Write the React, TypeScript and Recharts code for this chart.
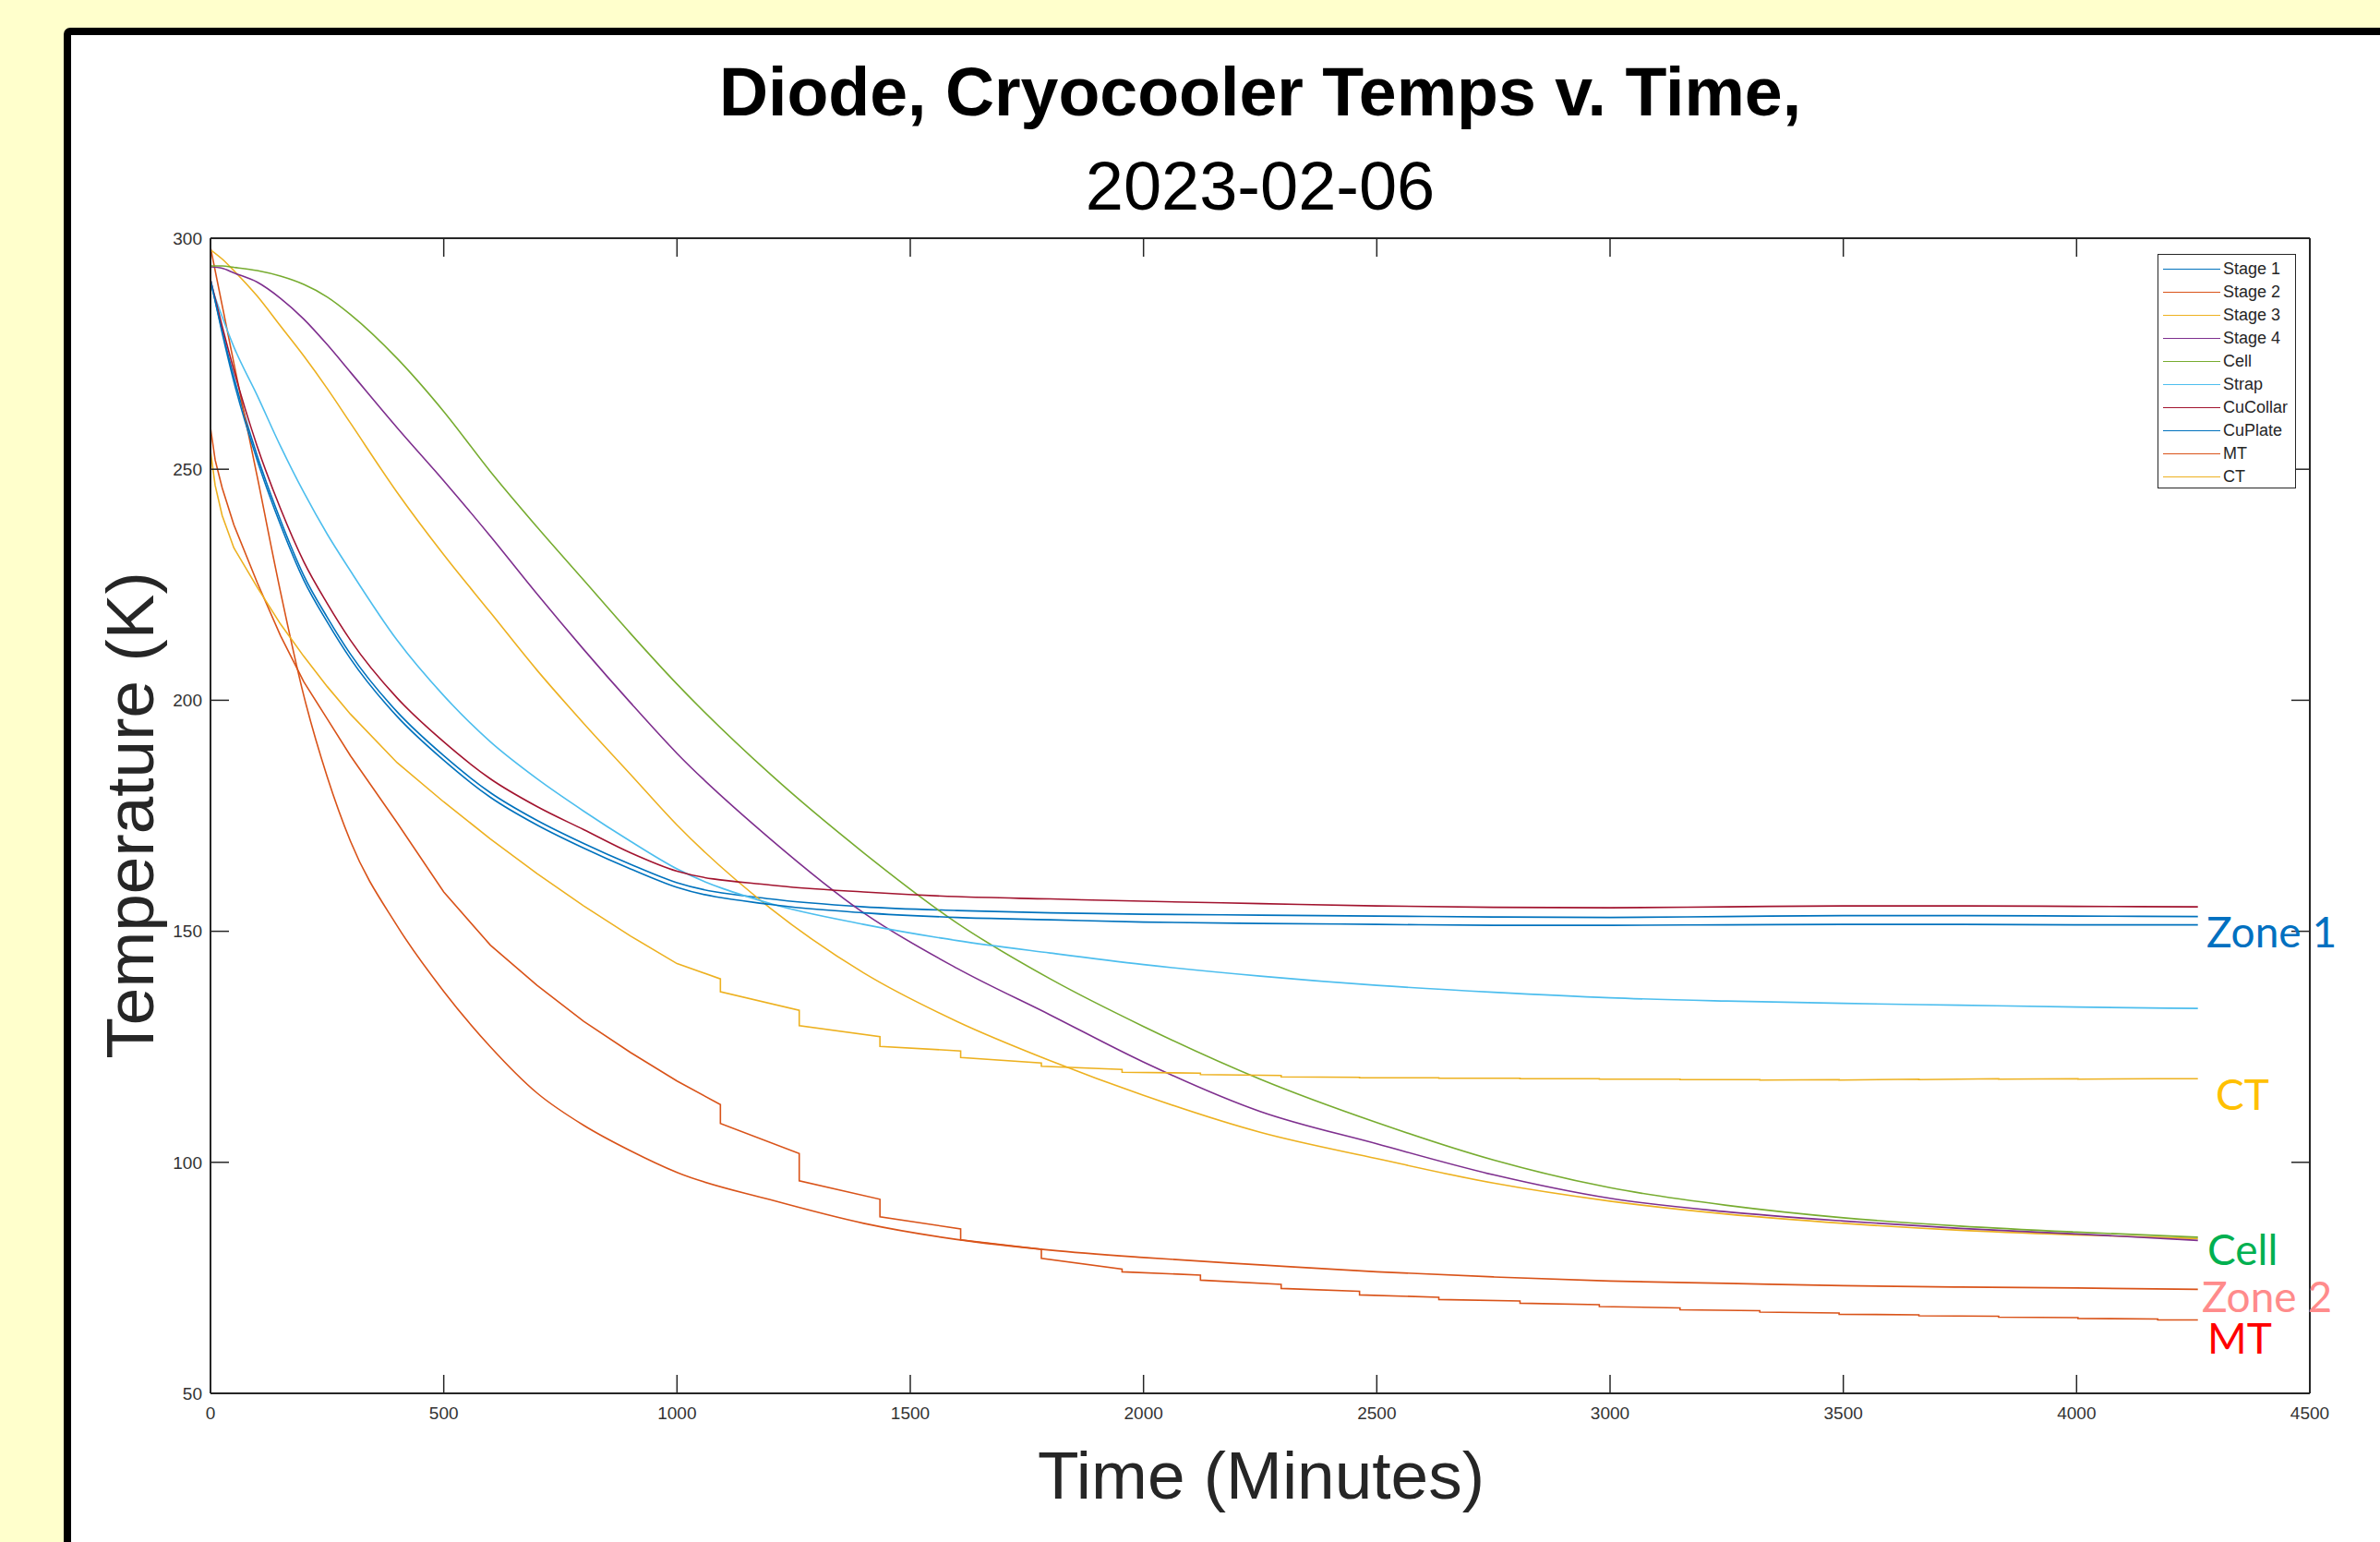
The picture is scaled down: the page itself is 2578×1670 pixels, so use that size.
import { LineChart, Line, XAxis, YAxis, Legend } from "recharts";

// shared time grid (minutes) for the smooth channels
const TIME = [0, 25, 50, 100, 150, 200, 250, 300, 400, 500, 600, 700, 800, 900, 1000, 1200, 1400, 1600, 1800, 2000, 2250, 2500, 2750, 3000, 3250, 3500, 3750, 4000, 4260];

const STAGE1 = [291, 280, 270, 253, 239, 227, 218, 210, 197.5, 188, 180, 174, 169, 164.5, 160.5, 157, 155.3, 154.5, 154, 153.7, 153.5, 153.3, 153.1, 153.0, 153.2, 153.4, 153.4, 153.3, 153.2];
const STAGE2 = [298, 285.5, 273, 248.5, 223.5, 201, 183.5, 169.5, 151.2, 137, 125, 115, 108, 102.5, 97.8, 91.9, 86.8, 83.3, 81, 79.4, 77.8, 76.3, 75.2, 74.3, 73.8, 73.3, 73.0, 72.8, 72.5];
const STAGE3 = [297.5, 295.5, 293, 287.5, 281, 274.5, 267.5, 260, 245, 231.5, 219, 206.5, 195, 184, 173, 155, 141, 130.5, 122, 114.5, 106.5, 100.8, 95.5, 91.6, 88.8, 86.8, 85.3, 84.3, 83.5];
const STAGE4 = [293.8, 293.5, 292.5, 290.5, 287, 282.5, 277, 271, 259, 247.5, 235.5, 223, 211, 199.5, 188.5, 170, 154, 142, 131.9, 121.7, 111, 104, 97.3, 92.2, 89.3, 87.3, 85.7, 84.5, 83.1];
const CELL = [294, 294, 293.7, 293, 291.8, 290, 287.3, 283.5, 274, 262.5, 249.5, 237.5, 226, 214.5, 203.5, 184, 167, 151.8, 139.7, 129.4, 118, 108.6, 100.5, 94.5, 90.7, 88, 86.2, 84.9, 83.8];
const STRAP = [290, 283, 276.5, 266, 255, 245, 236, 228, 213, 201, 191, 183, 176, 169.5, 163.5, 156, 151.5, 148, 145.3, 142.8, 140.3, 138.3, 136.8, 135.6, 134.9, 134.4, 134, 133.6, 133.3];
const CUCOLLAR = [291, 281, 271.5, 255, 241.5, 230, 221, 213, 200.5, 191, 183, 177, 172, 167, 163, 160, 158.5, 157.5, 157, 156.5, 156, 155.5, 155.2, 155.1, 155.3, 155.5, 155.5, 155.4, 155.3];
const CUPLATE = [291, 279.5, 269, 252, 238, 226, 217, 209, 196.5, 187, 179, 173, 168, 163.5, 159.5, 155.8, 154, 153, 152.5, 152, 151.7, 151.5, 151.3, 151.3, 151.4, 151.5, 151.5, 151.4, 151.4];

// MT and CT are logged with discrete steps, so they get their own time base
const STEP_TIME = [0, 10, 25, 50, 100, 150, 200, 250, 300, 400, 500, 600, 700, 800, 900, 1000,
  1093, 1093, 1262, 1262, 1435, 1435, 1608, 1608, 1781, 1781, 1954, 1954, 2122, 2122, 2295, 2295,
  2463, 2463, 2633, 2633, 2807, 2807, 2977, 2977, 3150, 3150, 3321, 3321, 3491, 3491, 3662, 3662,
  3833, 3833, 4003, 4003, 4174, 4174, 4260];
const MT = [259, 252, 246, 238, 225.5, 214, 204, 196, 188, 173.5, 158.5, 147, 138.3, 130.5, 123.8, 117.6,
  112.5, 108.4, 101.9, 96.0, 92.0, 88.2, 85.6, 83.2, 81.2, 79.2, 76.9, 76.3, 75.6, 74.5, 73.6, 72.7,
  72.1, 71.3, 70.8, 70.3, 70.0, 69.5, 69.2, 68.8, 68.5, 68.1, 67.9, 67.6, 67.4, 67.1, 67.0, 66.8,
  66.7, 66.5, 66.4, 66.2, 66.1, 65.9, 65.9];
const CT = [254, 246.5, 240, 233, 224.5, 216.5, 209.5, 203, 197, 186.5, 178, 170, 162.5, 155.5, 149, 143,
  139.7, 136.9, 132.9, 129.6, 127.2, 125.1, 124.1, 122.7, 121.5, 120.8, 120.1, 119.5, 119.3, 119.0, 118.8, 118.5,
  118.4, 118.3, 118.3, 118.2, 118.2, 118.1, 118.1, 118.0, 118.0, 117.9, 117.9, 117.8, 117.9, 117.8, 118.0, 117.9,
  118.1, 118.0, 118.1, 118.0, 118.1, 118.1, 118.1];

const X_TICKS = [0, 500, 1000, 1500, 2000, 2500, 3000, 3500, 4000, 4500];
const Y_TICKS = [50, 100, 150, 200, 250, 300];

const toRows = (times: number[], vals: number[]) => times.map((t, i) => ({ t, v: vals[i] }));

const SERIES = [
  { name: "Stage 1", color: "#0072BD", data: toRows(TIME, STAGE1), step: false },
  { name: "Stage 2", color: "#D95319", data: toRows(TIME, STAGE2), step: false },
  { name: "Stage 3", color: "#EDB120", data: toRows(TIME, STAGE3), step: false },
  { name: "Stage 4", color: "#7E2F8E", data: toRows(TIME, STAGE4), step: false },
  { name: "Cell", color: "#77AC30", data: toRows(TIME, CELL), step: false },
  { name: "Strap", color: "#4DBEEE", data: toRows(TIME, STRAP), step: false },
  { name: "CuCollar", color: "#A2142F", data: toRows(TIME, CUCOLLAR), step: false },
  { name: "CuPlate", color: "#0072BD", data: toRows(TIME, CUPLATE), step: false },
  { name: "MT", color: "#D95319", data: toRows(STEP_TIME, MT), step: true },
  { name: "CT", color: "#EDB120", data: toRows(STEP_TIME, CT), step: true },
];

const NOTES = [
  { text: "Zone 1", color: "#0070C0", x: 2390, y: 1026 },
  { text: "CT", color: "#FFC000", x: 2400, y: 1202 },
  { text: "Cell", color: "#00B050", x: 2391, y: 1370 },
  { text: "Zone 2", color: "#FF8B8B", x: 2385, y: 1421 },
  { text: "MT", color: "#FF0000", x: 2391, y: 1466 },
];

const FONT = "'Liberation Sans', Arial, Helvetica, sans-serif";
const AXIS = "#262626";
const blank = () => "";

function LegendBox() {
  return (
    <div
      style={{
        width: 150,
        height: 254,
        boxSizing: "border-box",
        border: `1.5px solid ${AXIS}`,
        background: "#fff",
        position: "relative",
        fontFamily: FONT,
        fontSize: 18,
        color: AXIS,
      }}
    >
      {SERIES.map((s, i) => (
        <div
          key={s.name}
          style={{ position: "absolute", left: 5, top: 3 + 25.03 * i, height: 25, display: "flex", alignItems: "center", whiteSpace: "nowrap" }}
        >
          <div style={{ width: 62, borderTop: `1.6px solid ${s.color}` }} />
          <span style={{ marginLeft: 3 }}>{s.name}</span>
        </div>
      ))}
    </div>
  );
}

export default function App() {
  const tickStyle = { fontSize: 19, fill: "#333", fontFamily: FONT };
  const inTick = { stroke: AXIS, strokeWidth: 1.5 };
  const edge = { stroke: AXIS, strokeWidth: 2 };
  // frame axes: 1px thick, blank labels, negative tickSize => ticks point into the plot
  const frameX = { type: "number" as const, dataKey: "t", domain: [0, 4500], ticks: X_TICKS, interval: 0, allowDataOverflow: true, height: 1, tickSize: -20, tickFormatter: blank, tickLine: inTick, axisLine: edge };
  const frameY = { type: "number" as const, domain: [50, 300], ticks: Y_TICKS, interval: 0, allowDataOverflow: true, width: 1, tickSize: -20, tickFormatter: blank, tickLine: inTick, axisLine: edge };
  return (
    <div style={{ position: "absolute", left: 0, top: 0, width: 2578, height: 1670, overflow: "hidden", background: "#FFFFCC" }}>
      <div
        style={{
          position: "absolute",
          left: 69,
          top: 30,
          width: 2600,
          height: 1700,
          boxSizing: "border-box",
          border: "8px solid #000",
          borderRadius: 7,
          background: "#fff",
        }}
      />
      <div style={{ position: "absolute", left: 0, top: 0 }}>
        <LineChart width={2578} height={1670} margin={{ top: 257, right: 75, bottom: 120, left: 167 }}>
          {/* label-only axes, placed outside the frame */}
          <XAxis
            xAxisId="lbl"
            dataKey="t"
            type="number"
            domain={[0, 4500]}
            ticks={X_TICKS}
            interval={0}
            allowDataOverflow
            height={40}
            tickLine={false}
            tickMargin={8}
            axisLine={false}
            tick={tickStyle}
          />
          <YAxis
            yAxisId="lbl"
            type="number"
            domain={[50, 300]}
            ticks={Y_TICKS}
            interval={0}
            allowDataOverflow
            width={60}
            tickLine={false}
            axisLine={false}
            tick={tickStyle}
          />
          {/* frame: default-id axes hug the plot area */}
          <XAxis orientation="bottom" {...frameX} />
          <YAxis orientation="left" {...frameY} />
          <XAxis xAxisId="top" orientation="top" {...frameX} />
          <YAxis yAxisId="right" orientation="right" {...frameY} />
          {SERIES.map((s) => (
            <Line
              key={s.name}
              data={s.data}
              dataKey="v"
              name={s.name}
              type={s.step ? "linear" : "monotone"}
              stroke={s.color}
              strokeWidth={1.6}
              dot={false}
              activeDot={false}
              isAnimationActive={false}
            />
          ))}
          {/* invisible copies so the extra axes have a series of their own */}
          <Line xAxisId="top" yAxisId="right" data={SERIES[0].data} dataKey="v" stroke="none" dot={false} activeDot={false} legendType="none" isAnimationActive={false} />
          <Line xAxisId="lbl" yAxisId="lbl" data={SERIES[0].data} dataKey="v" stroke="none" dot={false} activeDot={false} legendType="none" isAnimationActive={false} />
          <Legend
            layout="vertical"
            align="center"
            verticalAlign="middle"
            wrapperStyle={{ left: 2337, top: 275, width: 150 }}
            content={() => <LegendBox />}
          />
        </LineChart>
      </div>
      <svg width={2578} height={1670} style={{ position: "absolute", left: 0, top: 0, pointerEvents: "none" }}>
        <text x={1365} y={125} textAnchor="middle" fontFamily={FONT} fontWeight="bold" fontSize={73.5} fill="#000">
          Diode, Cryocooler Temps v. Time,
        </text>
        <text x={1365} y={227} textAnchor="middle" fontFamily={FONT} fontSize={74} fill="#000">
          2023-02-06
        </text>
        <text x={1366} y={1623} textAnchor="middle" fontFamily={FONT} fontSize={73} fill={AXIS}>
          Time (Minutes)
        </text>
        <text transform="translate(166,883) rotate(-90)" textAnchor="middle" fontFamily={FONT} fontSize={73} fill={AXIS}>
          Temperature (K)
        </text>
        {NOTES.map((n) => (
          <text key={n.text} x={n.x} y={n.y} fontFamily="Lato, 'Open Sans', sans-serif" fontSize={46} fill={n.color}>
            {n.text}
          </text>
        ))}
      </svg>
    </div>
  );
}
